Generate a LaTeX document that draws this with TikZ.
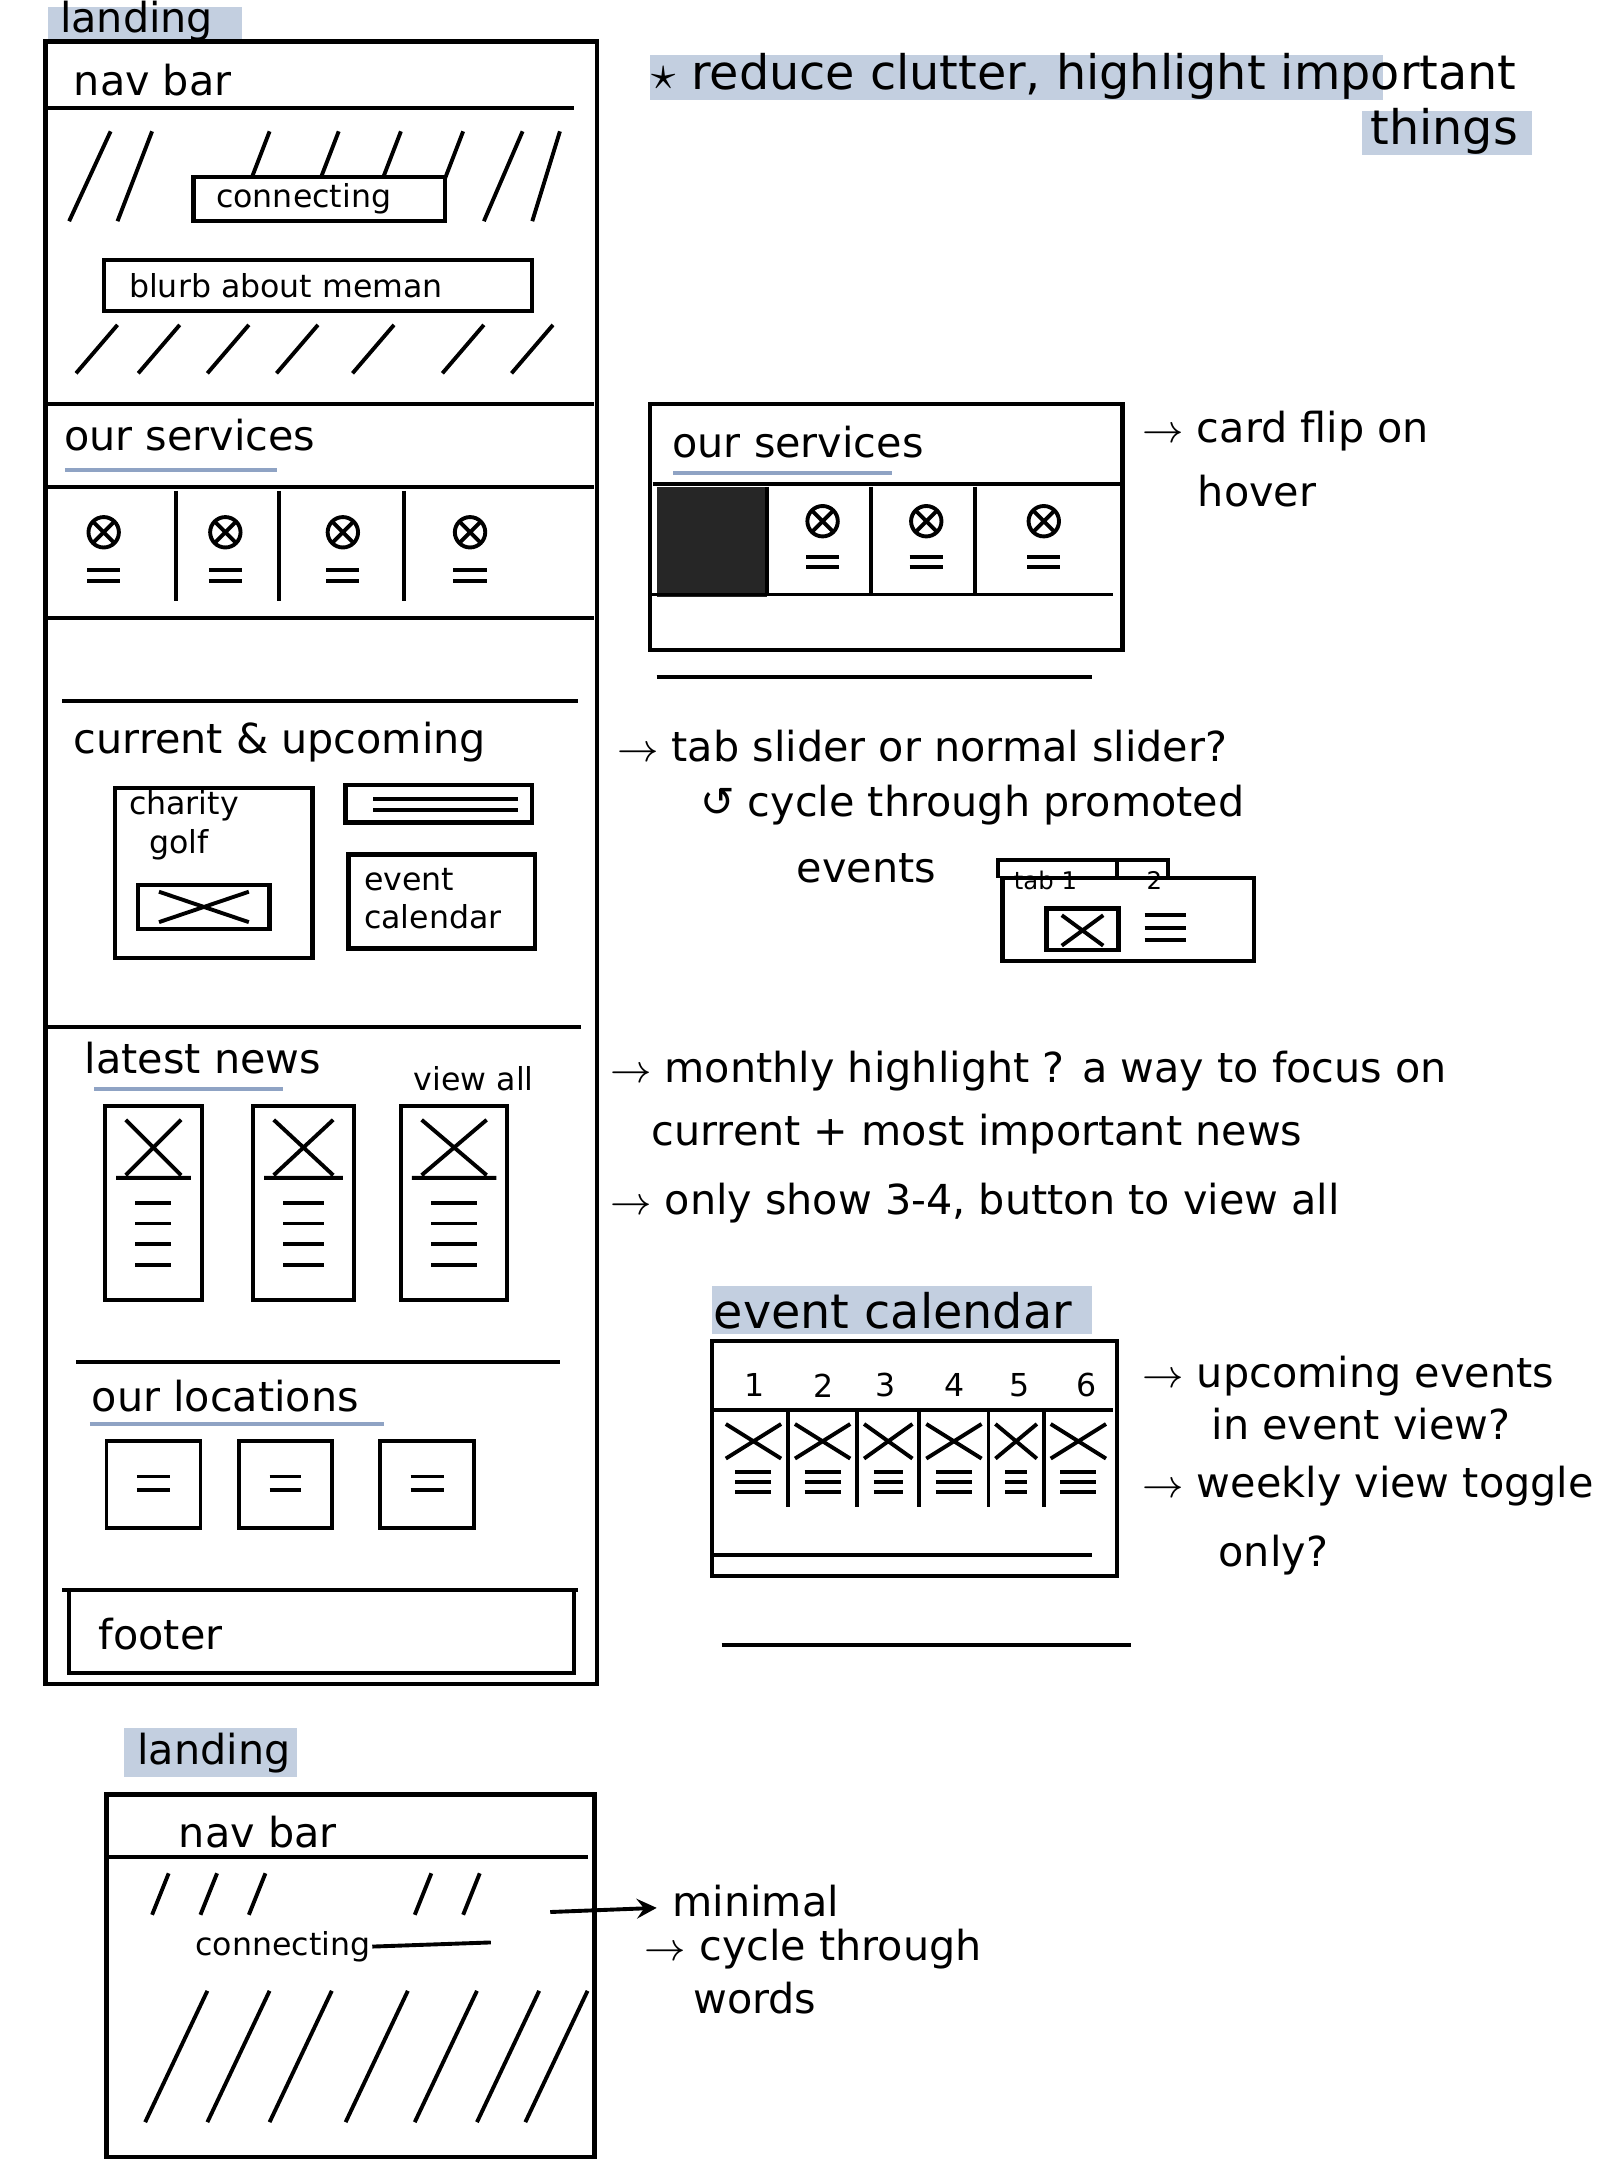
\documentclass[tikz,border=0pt]{standalone}
\usepackage{fontspec}
\setmainfont{DejaVu Sans}
\definecolor{hlc}{HTML}{C3CFE0}
\definecolor{ulc}{HTML}{8FA3C4}
\begin{document}
\begin{tikzpicture}[x=0.01cm,y=-0.01cm,line width=0.8pt,
  hl/.style={fill=hlc,draw=none},
  t/.style={anchor=west,inner sep=0,font=\fontsize{8.5}{10}\selectfont},
  ts/.style={anchor=west,inner sep=0,font=\fontsize{6.5}{8}\selectfont},
  tl/.style={anchor=west,inner sep=0,font=\fontsize{9.8}{12}\selectfont},
  bx/.style={draw,line width=0.9pt}]
\useasboundingbox (0,0) rectangle (1172,1566);
% highlights
\fill[hl] (35,5) rectangle (175,30);
\fill[hl] (470,40) rectangle (1000,72);
\fill[hl] (985,80) rectangle (1108,112);
\fill[hl] (515,930) rectangle (790,965);
\fill[hl] (90,1250) rectangle (215,1285);
% left frame
\coordinate (fa) at (33,30); \coordinate (fb) at (432,1218);
\draw[bx] (fa) rectangle (fb);
\node[t] (land1) at (42,15) {landing};
\node[t] (nav1) at (52,58) {nav bar};
\draw (33,78) -- (415,78);
\foreach \a/\b in {50/80,85/110,170/195,220/245,265/290,310/335,350/378,385/405}
  \draw (\a,160) -- (\b,95);
\foreach \a in {55,100,150,200,255,320,370} \draw (\a,270) -- (\a+30,235);
\draw[bx,fill=white] (140,128) rectangle (322,160);
\node[ts] (conn) at (155,144) {connecting};
\draw[bx,fill=white] (75,188) rectangle (385,225);
\node[ts] (blurb) at (92,207) {blurb about meman};
\draw (33,292) -- (430,292);
\node[t] (svc1) at (45,315) {our services};
\draw[ulc] (47,340) -- (200,340);
\draw (33,352) -- (430,352);
\foreach \x in {75,163,248,340}{
  \draw (\x,385) circle (11); \draw (\x-7,378)--(\x+7,392) (\x+7,378)--(\x-7,392);
  \draw (\x-12,412)--(\x+12,412) (\x-12,420)--(\x+12,420);}
\foreach \x in {127,202,292} \draw (\x,355) -- (\x,435);
\draw (33,447) -- (430,447);
\draw (45,507) -- (418,507);
\node[t] (cur) at (52,537) {current \& upcoming};
\draw[bx] (83,570) rectangle (226,693);
\node[ts,align=left] (golf) at (92,597) {charity\\ \ \ golf};
\draw[bx] (100,640) rectangle (195,672);
\draw (115,645)--(180,667) (115,667)--(180,645);
\draw[bx] (250,568) rectangle (385,595);
\draw (270,578)--(375,578) (270,586)--(375,586);
\draw[bx] (252,618) rectangle (387,686);
\node[ts,align=left] (evc) at (262,650) {event\\calendar};
\draw (33,743) -- (420,743);
\node[t] (news) at (60,765) {latest news};
\draw[ulc] (68,788) -- (205,788);
\node[ts] (va) at (298,780) {view all};
\foreach \a/\b in {76/146,183/256,290/367}{
  \draw (\a,800) rectangle (\b,940);
  \draw (\a+8,852)--(\b-8,852) (\a+15,810)--(\b-15,850) (\b-15,810)--(\a+15,850);
  \foreach \y in {870,885,900,915} \draw (\a+22,\y)--(\b-22,\y);}
\draw (55,985) -- (405,985);
\node[t] (loc) at (65,1010) {our locations};
\draw[ulc] (65,1030) -- (278,1030);
\foreach \a/\b in {77/145,173/240,275/343}{
  \draw (\a,1042) rectangle (\b,1105);
  \draw (\a+22,1068)--(\b-22,1068) (\a+22,1078)--(\b-22,1078);}
\draw (45,1150) -- (418,1150);
\draw[bx] (50,1150) rectangle (415,1210);
\node[t] (foot) at (70,1182) {footer};
% title
\node[tl] (title) at (470,55) {$\star$ reduce clutter, highlight important};
\node[tl] (things) at (990,95) {things};
% services detail
\draw[bx] (470,292) rectangle (812,470);
\draw (475,490) -- (790,490);
\node[t] (svc2) at (485,320) {our services};
\draw[ulc] (487,342) -- (645,342);
\draw (472,350) -- (810,350);
\fill[black!85] (475,352) rectangle (555,432);
\foreach \x in {555,630,705} \draw (\x,352)--(\x,430);
\draw (470,430) -- (805,430);
\foreach \x in {595,670,755}{
  \draw (\x,377) circle (11); \draw (\x-7,370)--(\x+7,384) (\x+7,370)--(\x-7,384);
  \draw (\x-12,403)--(\x+12,403) (\x-12,410)--(\x+12,410);}
\node[t] (flip) at (825,312) {$\to$ card flip on};
\node[t] at (865,355) {hover};
% tab slider
\node[t] (tab) at (445,540) {$\to$ tab slider or normal slider?};
\node[t] at (505,582) {\char"21BA\ cycle through promoted};
\node[t] at (575,628) {events};
\draw[bx] (725,635) rectangle (907,695);
\draw (722,635)--(722,622)--(845,622)--(845,635) (808,622)--(808,635);
\node[ts,font=\fontsize{5}{6}\selectfont] (tabs) at (732,637) {tab 1 \ \ \ \ \ \ \ \ 2};
\draw[bx] (757,657) rectangle (809,687);
\draw (768,662)--(798,684) (798,662)--(768,684);
\draw (828,662)--(858,662) (828,671)--(858,671) (828,680)--(858,680);
% news notes
\node[t] (mh) at (440,775) {$\to$ monthly highlight ? a way to focus on};
\node[t] at (470,820) {current + most important news};
\node[t] at (440,870) {$\to$ only show 3-4, button to view all};
% event calendar
\node[tl] (ech) at (515,948) {event calendar};
\draw[bx] (515,970) rectangle (808,1140);
\draw (522,1190) -- (818,1190);
\foreach \n/\x in {1/540,2/590,3/635,4/685,5/732,6/780} \node[ts] at (\x-3,1002) {\n};
\draw (515,1020) -- (805,1020);
\foreach \x in {570,620,665,715,755} \draw (\x,1020)--(\x,1090);
\foreach \a/\b in {520/570,570/620,620/665,665/715,715/755,755/805}{
  \draw (\a+5,1030)--(\b-5,1055) (\b-5,1030)--(\a+5,1055);
  \foreach \y in {1065,1072,1079} \draw (\a+12,\y)--(\b-12,\y);}
\draw (515,1125) -- (790,1125);
\node[t] (up) at (825,995) {$\to$ upcoming events};
\node[t] at (875,1030) {in event view?};
\node[t] (wk) at (825,1075) {$\to$ weekly view toggle};
\node[t] at (880,1125) {only?};
% bottom landing
\node[t] (land2) at (98,1268) {landing};
\draw[bx] (77,1298) rectangle (430,1560);
\node[t] (nav2) at (128,1325) {nav bar};
\draw (77,1343) -- (425,1343);
\foreach \a in {110,145,180,300,335} \draw (\a,1385)--(\a+12,1355);
\foreach \a in {105,150,195,250,300,345,380} \draw (\a,1535)--(\a+45,1440);
\node[ts,fill=white] (conn2) at (140,1408) {connecting};
\coordinate (c2e) at (355,1405);
\draw (conn2.east) -- (c2e);
\coordinate (ar) at (475,1380);
\draw[->,>=stealth] (398,1383) -- (ar);
\node[t] (min) at (485,1375) {minimal};
\node[t] at (465,1410) {$\to$ cycle through};
\node[t] at (500,1445) {words};
\end{tikzpicture}
\end{document}
